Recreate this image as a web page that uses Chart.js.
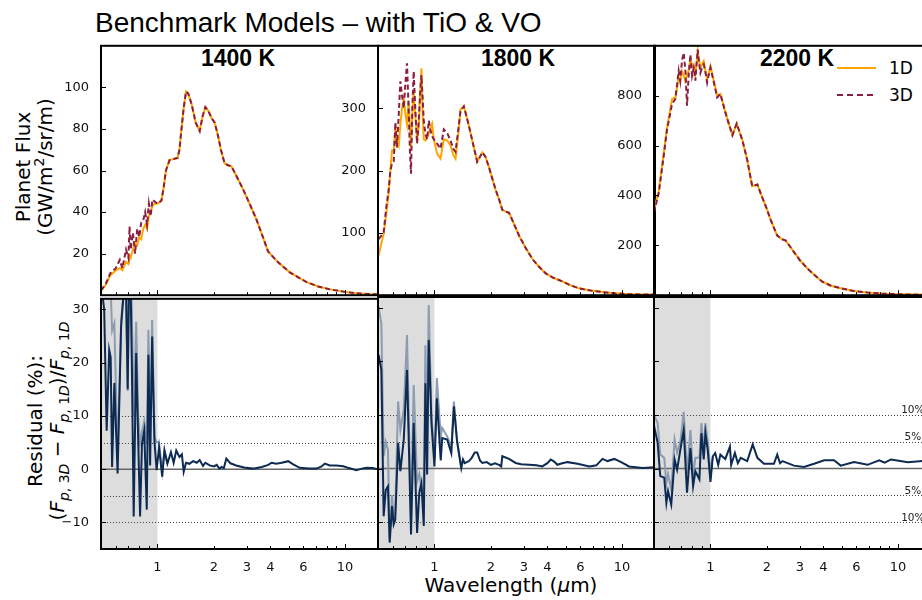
<!DOCTYPE html>
<html>
<head>
<meta charset="utf-8">
<script src="https://cdn.jsdelivr.net/npm/chart.js@4.4.0/dist/chart.umd.min.js"></script>
<style>
  html, body { margin: 0; padding: 0; background: #fff; }
  body { width: 922px; height: 600px; overflow: hidden; position: relative; font-family: "DejaVu Sans", sans-serif; color: #000; }
  canvas { position: absolute; }
  .txt { position: absolute; white-space: nowrap; }
  .rot { position: absolute; white-space: nowrap; text-align: center; font-size: 20px; line-height: 22px;
         transform: translate(-50%, -50%) rotate(-90deg); }
  .rot sub, .rot sup { font-size: 14px; line-height: 0; }
  .ptitle { position: absolute; top: 47px; font-family: "Liberation Sans", Arial, sans-serif; font-weight: bold;
            font-size: 23px; line-height: 23px; transform: translateX(-50%); white-space: nowrap; }
</style>
</head>
<body>
<div class="txt" style="left:95px;top:9px;font-family:'Liberation Sans',Arial,sans-serif;font-size:28px;line-height:28px;">Benchmark Models – with TiO &amp; VO</div>

<div class="ptitle" style="left:238px">1400 K</div>
<div class="ptitle" style="left:518px">1800 K</div>
<div class="ptitle" style="left:797px">2200 K</div>

<svg style="position:absolute;left:836px;top:60px" width="42" height="44">
  <line x1="1" y1="8" x2="40" y2="8" stroke="#ffa500" stroke-width="2"/>
  <line x1="1" y1="35" x2="40" y2="35" stroke="#8b1e3f" stroke-width="2" stroke-dasharray="6,4"/>
</svg>
<div class="txt" style="left:889px;top:58px;font-size:17px;line-height:20px;">1D</div>
<div class="txt" style="left:889px;top:85px;font-size:17px;line-height:20px;">3D</div>

<div class="rot" style="left:34px;top:167px">Planet Flux<br>(GW/m<sup>2</sup>/sr/m)</div>
<div class="rot" style="left:46px;top:421px">Residual (%):<br>(<i>F</i><sub><i>p</i>, 3<i>D</i></sub> − <i>F</i><sub><i>p</i>, 1<i>D</i></sub>)/<i>F</i><sub><i>p</i>, 1<i>D</i></sub></div>
<div class="txt" style="left:511px;top:574px;font-size:20px;line-height:22px;transform:translateX(-50%);">Wavelength (<i>μ</i>m)</div>

<script>
// axes
const xMin = 0.5
const xMax = 15
const xLabelTicks = [1, 2, 3, 4, 6, 10]
const xMinorTicks = [0.6, 0.7, 0.8, 0.9, 2, 3, 4, 5, 6, 7, 8, 9]
const xMajorTicks = [1, 10]
const shadeEnd = 1

const fluxMax = [120, 400, 1000]
const fluxTicks = [[20, 40, 60, 80, 100], [100, 200, 300], [200, 400, 600, 800]]
const resMin = -15
const resMax = 32
const resTicks = [-10, 0, 10, 20, 30]
const resLines = [-10, -5, 5, 10]

// 1400 K spectra
const wl1400 = [0.50, 0.53, 0.56, 0.60, 0.63, 0.65, 0.68, 0.70, 0.71, 0.72, 0.74, 0.76, 0.78, 0.80, 0.82, 0.84, 0.86, 0.88, 0.90, 0.92,
  0.94, 0.97, 1.00, 1.05, 1.08, 1.11, 1.16, 1.22, 1.28, 1.31, 1.34, 1.38, 1.42, 1.46, 1.52, 1.60, 1.68, 1.74, 1.80, 1.86,
  1.95, 2.02, 2.10, 2.18, 2.28, 2.38, 2.48, 2.65, 2.86, 3.10, 3.37, 3.65, 3.89, 4.40, 5.08, 5.70, 6.24, 7.20, 8.33, 10.0,
  11.5, 13.0, 15.0]
const flux1D1400 = [2.0, 5.0, 9.5, 12, 13, 12, 16, 15, 19, 18, 22, 25, 24, 28, 27, 32, 34, 32, 38, 40,
  43, 44, 44, 45.5, 52, 60, 65, 65.5, 66, 70, 79, 90, 98, 97, 92, 83, 79, 86, 90.5, 89,
  85, 83, 77, 70, 63.5, 62.5, 62, 57, 51, 44, 36.5, 28, 21, 15.8, 11, 8.3, 6.3, 4.2, 2.8, 1.6,
  0.9, 0.6, 0.4]
const flux3D1400 = [2.3, 5.5, 10.5, 13, 17, 13, 22, 18, 33, 22, 30, 20, 32, 28, 35, 36, 40, 34, 44, 38,
  46, 45, 44, 45.5, 52, 60, 65, 65.5, 66, 70, 79, 90, 98, 97, 92, 83, 79, 86, 90.5, 89,
  85, 83, 77, 70, 63.5, 62.5, 62, 57, 51, 44, 36.5, 28, 21, 15.8, 11, 8.3, 6.3, 4.2, 2.8, 1.6,
  0.9, 0.6, 0.4]

// 1800 K spectra
const wl1800 = [0.504, 0.52, 0.536, 0.553, 0.57, 0.582, 0.594, 0.607, 0.619, 0.631, 0.645, 0.658, 0.672, 0.686, 0.70, 0.714, 0.729, 0.74, 0.75, 0.762,
  0.775, 0.79, 0.808, 0.825, 0.838, 0.852, 0.865, 0.877, 0.895, 0.914, 0.933, 0.952, 0.972, 0.992, 1.033, 1.077, 1.122, 1.17, 1.218, 1.26,
  1.295, 1.34, 1.377, 1.435, 1.52, 1.60, 1.69, 1.75, 1.80, 1.87, 1.95, 2.03, 2.12, 2.22, 2.30, 2.40, 2.50, 2.65, 2.83, 3.05,
  3.33, 3.60, 3.92, 4.30, 4.82, 5.30, 5.90, 6.80, 7.90, 9.20, 10.9, 13.0, 15.0]
const flux1D1800 = [64, 82, 98, 130, 165, 200, 232, 232, 270, 248, 240, 274, 300, 315, 290, 274, 311, 270, 237, 290,
  327, 290, 248, 270, 320, 364, 290, 250, 248, 252, 260, 268, 275, 250, 227, 219, 250, 248, 240, 225,
  219, 260, 298, 303, 274, 245, 214, 222, 229, 222, 206, 188, 169, 152, 137, 134, 132, 115, 95, 77,
  58, 46, 35, 28, 22, 16, 11, 7.5, 5, 3, 1.6, 1.2, 1.0]
const flux3D1800 = [90, 95, 101, 140, 169, 200, 211, 215, 277, 237, 290, 343, 320, 300, 340, 372, 295, 230, 195, 300,
  359, 300, 243, 280, 322, 353, 316, 280, 258, 250, 280, 265, 255, 250, 243, 235, 266, 260, 248, 235,
  230, 265, 295, 303, 274, 245, 214, 222, 229, 222, 206, 188, 169, 152, 137, 134, 132, 115, 95, 77,
  58, 46, 35, 28, 22, 16, 11, 7.5, 5, 3, 1.6, 1.2, 1.0]

// 2200 K spectra
const wl2200 = [0.50, 0.53, 0.563, 0.586, 0.624, 0.65, 0.677, 0.69, 0.705, 0.72, 0.735, 0.75, 0.765, 0.782, 0.798, 0.815, 0.831, 0.855, 0.87, 0.884,
  0.90, 0.921, 0.94, 0.96, 0.98, 1.0, 1.042, 1.086, 1.13, 1.2, 1.25, 1.31, 1.38, 1.48, 1.57, 1.67, 1.72, 1.78, 1.87, 1.97,
  2.1, 2.27, 2.4, 2.52, 2.79, 3.0, 3.29, 3.6, 3.95, 4.4, 4.95, 5.8, 6.88, 8.2, 9.95, 12, 15]
const flux1D2200 = [344, 417, 569, 668, 787, 793, 872, 860, 899, 880, 859, 886, 900, 946, 925, 912, 886, 978, 940, 912,
  925, 939, 900, 866, 890, 919, 859, 800, 807, 734, 690, 642, 688, 622, 543, 437, 440, 444, 400, 358,
  300, 239, 225, 219, 173, 140, 107, 80, 54, 38, 28, 17, 11, 6.5, 4, 2.5, 1.8]
const flux3D2200 = [331, 410, 556, 661, 767, 787, 899, 859, 940, 972, 900, 760, 880, 965, 880, 912, 860, 985, 930, 892,
  910, 925, 895, 853, 885, 912, 855, 793, 807, 734, 690, 642, 688, 622, 543, 437, 440, 444, 400, 358,
  300, 239, 225, 219, 173, 140, 107, 80, 54, 38, 28, 17, 11, 6.5, 4, 2.5, 1.8]

// residuals (%), light series only where it separates from the dark one
const resWl1400 = [0.50, 0.52, 0.536, 0.553, 0.563, 0.573, 0.589, 0.613, 0.64, 0.66, 0.675, 0.694, 0.705, 0.715, 0.73, 0.747, 0.77, 0.79, 0.808, 0.827,
  0.85, 0.877, 0.895, 0.914, 0.937, 0.964, 0.99, 1.02, 1.06, 1.09, 1.13, 1.18, 1.22, 1.26, 1.31, 1.35, 1.38, 1.42, 1.48, 1.55,
  1.62, 1.68, 1.75, 1.80, 1.90, 2.00, 2.07, 2.14, 2.20, 2.26, 2.33, 2.45, 2.63, 2.90, 3.23, 3.60, 3.90, 4.06, 4.30, 4.60,
  4.98, 5.30, 5.74, 6.40, 7.06, 7.50, 7.81, 8.30, 9.00, 9.80, 10.5, 11.5, 12.3, 13.0, 14.0, 15.0]
const resDark1400 = [35, 30, 7.2, 22.4, 21, 0.4, 16.2, -0.8, 26.8, 33, 40, 15, 35, 40, 20, -8.9, 21.8, 5, -8.9, 4.8,
  7.2, -7.6, 21.5, 0.7, 24.9, 5.1, -0.2, 4.1, -1.4, 3.5, 1.05, 3.2, 1.2, 3.5, 2.3, 2.8, -0.5, 1.2, 1.0, 1.5,
  1.2, 1.7, 0.6, 1.2, 0.7, 0.5, 0.8, 0.1, 0.4, 0.2, 2.0, 1.1, 0.7, 0.3, 0.1, 0.4, 0.8, 1.2, 1.0, 1.2,
  1.5, 0.9, 0.25, 0.1, 0.1, 0.5, 1.05, 0.7, 0.7, 0.55, 0.2, -0.2, 0.1, 0.25, 0.2, 0.0]
const resLight1400 = [40, 40, 36, 33, 34, 26, 27.4, 2, 28, 33, 40, 14.7, 36, 40, 30, 10, 27.7, 9.7, 5, 7,
  9, 5, 26.2, 5, 28, 6, 5.1, 5, -0.5, 3.5, 1.05]

const resWl1800 = [0.504, 0.521, 0.536, 0.55, 0.565, 0.577, 0.594, 0.606, 0.618, 0.64, 0.658, 0.686, 0.714, 0.75, 0.775, 0.808, 0.83, 0.852, 0.877, 0.895,
  0.914, 0.932, 0.964, 1.0, 1.03, 1.08, 1.10, 1.17, 1.23, 1.27, 1.32, 1.39, 1.42, 1.45, 1.53, 1.58, 1.64, 1.69, 1.75, 1.80,
  1.90, 2.00, 2.10, 2.21, 2.27, 2.30, 2.50, 2.71, 2.90, 3.20, 3.50, 3.76, 4.00, 4.17, 4.35, 4.52, 4.80, 5.13, 5.80, 6.70,
  7.30, 7.87, 8.37, 9.10, 9.90, 10.9, 12.9, 15.0]
const resDark1800 = [21.2, 18.4, -8.9, -4, -3.3, -13.8, -7, -10.4, -9.5, 4.8, -0.5, 5.4, 18.4, -12.3, 8.5, -12, -4.5, -2.7, -10.7, 15.9,
  -1.1, 24, 8.5, 0.4, 13.1, 1.5, 5.7, 5.4, 2.9, 11.6, 5.1, 0.1, 1.7, 1.0, 1.4, 2.0, 3.0, 3.0, 1.5, 1.05,
  1.2, 0.7, 1.0, 0.7, 0.4, 2.3, 1.8, 1.05, 0.8, 0.7, 0.6, 0.4, 1.0, 1.7, 1.3, 0.7, 1.0, 1.2, 0.9, 0.4,
  0.6, 1.8, 1.4, 1.8, 1.2, 0.4, 0.1, 0.25]
const resLight1800 = [30.2, 27, 2.3, 5, 3.5, -13, -5, -9.5, -8, 12.5, 7.2, 11, 24.9, -9.5, 15.6, -2.5, -1, -3.5, -6, 23,
  5, 30.5, 10, 1.8, 16.9, 6, 7.6, 6, 4, 12.5, 5.1, 0.1]

const resWl2200 = [0.50, 0.523, 0.54, 0.567, 0.582, 0.594, 0.618, 0.644, 0.664, 0.691, 0.72, 0.75, 0.782, 0.808, 0.831, 0.873, 0.895, 0.921, 0.94, 0.967,
  1.0, 1.03, 1.06, 1.10, 1.13, 1.2, 1.27, 1.29, 1.35, 1.40, 1.45, 1.57, 1.68, 1.78, 1.93, 2.18, 2.27, 2.35, 2.42, 2.79,
  3.15, 3.57, 4.04, 4.56, 4.95, 5.83, 6.88, 7.94, 8.5, 9.18, 11.3, 13.5, 15.0]
const resDark2200 = [8, 4.8, -1.4, -1.7, -6.4, -4.2, -6.7, 1.7, -0.2, 3.5, 7.2, -4.5, 3.8, -3.3, -0.5, -2, 6.6, 1.7, 6.6, 3.5,
  -2.5, 2.3, 2.9, 0.7, 2.6, 1.8, 4.1, 0.7, 2.9, 1.0, 2.0, 1.4, 4.5, 2, 0.9, 0.9, 2.6, 1.0, 1.4, 0.55,
  0.3, 0.9, 1.55, 1.55, 0.55, 1.2, 0.7, 1.55, 1.1, 1.7, 1.2, 1.4, 1.4]
const resLight2200 = [10, 8.5, 2.6, 2, -2.7, -1, -3.9, 5.4, 3, 5, 10.6, -1, 7.2, -1.5, 2, 2, 8.5, 3, 8.5, 5,
  -0.5, 2.3]

const color1D = '#ffa500'
const color3D = '#8b1e3f'
const colorDark = '#0c2a52'
const colorLight = '#8d9cb0'

const pts = (xs, ys) => ys.map((v, i) => ({ x: xs[i], y: v }))

// frame, inward ticks, shading and reference lines
const panelDecor = {
  id: 'panelDecor',
  beforeDatasetsDraw(chart, args, o) {
    const { ctx, chartArea: a, scales: { x, y } } = chart
    ctx.save()
    if (o.residual) {
      ctx.fillStyle = '#dddddd'
      ctx.fillRect(a.left, a.top, x.getPixelForValue(shadeEnd) - a.left, a.bottom - a.top)
      ctx.strokeStyle = '#444'
      ctx.lineWidth = 1
      ctx.setLineDash([1, 2])
      resLines.forEach(v => {
        const py = Math.round(y.getPixelForValue(v)) + 0.5
        ctx.beginPath(); ctx.moveTo(a.left, py); ctx.lineTo(a.right, py); ctx.stroke()
      })
      ctx.setLineDash([])
      ctx.strokeStyle = '#666'
      ctx.lineWidth = 1.5
      const p0 = y.getPixelForValue(0)
      ctx.beginPath(); ctx.moveTo(a.left, p0); ctx.lineTo(a.right, p0); ctx.stroke()
    }
    ctx.restore()
  },
  afterDatasetsDraw(chart, args, o) {
    const { ctx, chartArea: a, scales: { x, y } } = chart
    ctx.save()
    ctx.strokeStyle = '#000'
    ctx.lineWidth = 1
    ctx.beginPath()
    xMinorTicks.forEach(v => {
      const px = Math.round(x.getPixelForValue(v)) + 0.5
      ctx.moveTo(px, a.bottom); ctx.lineTo(px, a.bottom - 3)
    })
    xMajorTicks.forEach(v => {
      const px = Math.round(x.getPixelForValue(v)) + 0.5
      ctx.moveTo(px, a.bottom); ctx.lineTo(px, a.bottom - 5)
    })
    o.yTicks.forEach(v => {
      const py = Math.round(y.getPixelForValue(v)) + 0.5
      ctx.moveTo(a.left, py); ctx.lineTo(a.left + 5, py)
    })
    ctx.stroke()
    ctx.lineWidth = 2
    ctx.strokeRect(a.left, a.top, a.right - a.left, a.bottom - a.top)
    if (o.pctLabels) {
      ctx.fillStyle = '#222'
      ctx.font = '10.5px "DejaVu Sans"'
      ctx.textAlign = 'center'
      ctx.textBaseline = 'bottom'
      resLines.forEach(v => {
        ctx.fillText(Math.abs(v) + '%', x.getPixelForValue(12), y.getPixelForValue(v) + 1)
      })
    }
    ctx.restore()
  }
}

const panelLeft = [101, 378, 654]
const panelWidth = 277
const axisRoom = 60

function makePanel(col, residual, datasets) {
  const canvas = document.createElement('canvas')
  const top = residual ? 287 : 34
  const h = residual ? 292 : 273
  const w = axisRoom + panelWidth + 2
  canvas.width = w
  canvas.height = h
  canvas.style.left = (panelLeft[col] - axisRoom) + 'px'
  canvas.style.top = top + 'px'
  document.body.appendChild(canvas)

  const yTicks = residual ? resTicks : fluxTicks[col]
  const tickFont = { family: 'DejaVu Sans', size: 13 }

  new Chart(canvas, {
    type: 'line',
    data: { datasets },
    options: {
      responsive: false,
      animation: false,
      devicePixelRatio: 1,
      events: [],
      layout: { padding: { top: 10, bottom: residual ? 0 : 10, left: 0, right: 2 } },
      elements: { point: { radius: 0 }, line: { tension: 0 } },
      scales: {
        x: {
          type: 'logarithmic',
          min: xMin,
          max: xMax,
          bounds: 'data',
          display: residual,
          grid: { display: false },
          border: { display: false },
          afterBuildTicks: s => { s.ticks = xLabelTicks.map(v => ({ value: v })) },
          afterFit: s => { s.height = residual ? 30 : 0 },
          ticks: { autoSkip: false, maxRotation: 0, padding: 3, color: '#111', font: tickFont, callback: v => String(v) }
        },
        y: {
          type: 'linear',
          min: residual ? resMin : 0,
          max: residual ? resMax : fluxMax[col],
          bounds: 'data',
          grid: { display: false },
          border: { display: false },
          afterBuildTicks: s => { s.ticks = yTicks.map(v => ({ value: v })) },
          afterFit: s => { s.width = axisRoom },
          ticks: { display: !residual || col === 0, padding: 4, color: '#111', font: tickFont, callback: v => String(v).replace('-', '−') }
        }
      },
      plugins: {
        legend: { display: false },
        tooltip: { enabled: false },
        panelDecor: { residual, yTicks, pctLabels: residual && col === 2 }
      }
    },
    plugins: [panelDecor]
  })
}

function fluxSets(wl, f1, f3) {
  return [
    { data: pts(wl, f3), borderColor: color3D, borderWidth: 2, borderDash: [5, 3], clip: 0 },
    { data: pts(wl, f1), borderColor: color1D, borderWidth: 2, clip: 0 }
  ]
}
function resSets(wl, dark, light) {
  return [
    { data: pts(wl, dark), borderColor: colorDark, borderWidth: 2, clip: 0 },
    { data: pts(wl.slice(0, light.length), light), borderColor: colorLight, borderWidth: 2, clip: 0 }
  ]
}

makePanel(0, false, fluxSets(wl1400, flux1D1400, flux3D1400))
makePanel(1, false, fluxSets(wl1800, flux1D1800, flux3D1800))
makePanel(2, false, fluxSets(wl2200, flux1D2200, flux3D2200))
makePanel(0, true, resSets(resWl1400, resDark1400, resLight1400))
makePanel(1, true, resSets(resWl1800, resDark1800, resLight1800))
makePanel(2, true, resSets(resWl2200, resDark2200, resLight2200))
</script>
</body>
</html>
